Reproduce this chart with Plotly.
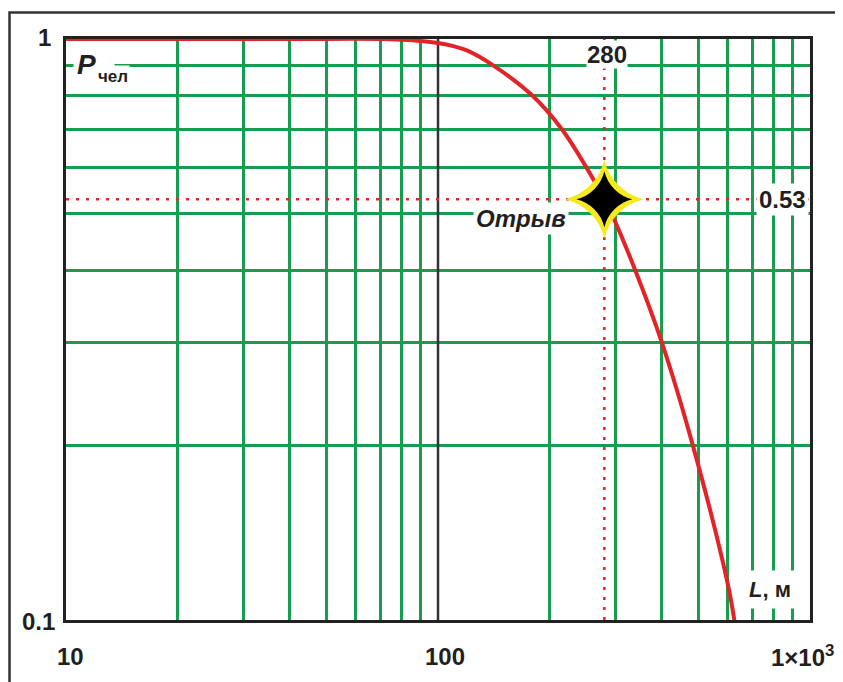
import plotly.graph_objects as go

# ---------------- data ----------------
L_VALUES = [10, 20, 40, 70, 80, 90, 100, 110, 120, 141, 179, 215, 251, 280, 293, 339, 400, 484, 600, 626]
P_VALUES = [1.0, 1.0, 1.0, 1.0, 0.997, 0.992, 0.984, 0.972, 0.955, 0.9, 0.8, 0.7, 0.6, 0.53, 0.5, 0.4, 0.30, 0.2, 0.116, 0.1]

BREAK_L = 280
BREAK_P = 0.53
BREAK_LABEL = "Отрыв"

X_GRID = [20, 30, 40, 50, 60, 70, 80, 90, 200, 300, 400, 500, 600, 700, 800, 900]
Y_GRID = [0.2, 0.3, 0.4, 0.5, 0.6, 0.7, 0.8, 0.9]
X_MAJOR = [100]

X_TICK_VALS = [10, 100, 1000]
X_TICK_TEXT = ["10", "100", "1×10<sup>3</sup>"]
Y_TICK_VALS = [1, 0.1]
Y_TICK_TEXT = ["1", "0.1"]

# ---------------- geometry helpers ----------------
# the page body has an 8px margin, so the figure starts at screen (8, 8)
OFF = 8
SW, SH = 843, 682                 # screen size
PL, PR, PT, PB = 66, 810, 39, 620  # plot area in screen pixels
W, H = SW - OFF, SH - OFF
ML, MR, MT, MB = PL - OFF, SW - PR, PT - OFF, SH - PB


def px(xs):
    return (xs - PL) / (PR - PL)


def py(ys):
    return (PB - ys) / (PB - PT)


GREEN = "rgb(22,158,78)"
RED = "rgb(226,36,40)"
INK = "#231f20"
FONT = "Liberation Sans, Arial, sans-serif"

fig = go.Figure()

# black major vertical line at 100
for v in X_MAJOR:
    fig.add_trace(go.Scatter(x=[v, v], y=[0.1, 1], mode="lines",
                             line=dict(color="#333333", width=2.5),
                             hoverinfo="skip", showlegend=False))

# dotted guide lines
fig.add_trace(go.Scatter(x=[10, 1000], y=[BREAK_P, BREAK_P], mode="lines",
                         line=dict(color=RED, width=2.5, dash="3px,7px"),
                         hoverinfo="skip", showlegend=False))
fig.add_trace(go.Scatter(x=[BREAK_L, BREAK_L], y=[0.1, 1], mode="lines",
                         line=dict(color=RED, width=2.5, dash="3px,7px"),
                         hoverinfo="skip", showlegend=False))

# main curve
fig.add_trace(go.Scatter(x=L_VALUES, y=P_VALUES, mode="lines",
                         line=dict(color=RED, width=4, shape="spline", smoothing=1.0),
                         showlegend=False))

# star marker
fig.add_trace(go.Scatter(x=[BREAK_L], y=[BREAK_P], mode="markers",
                         marker=dict(symbol="star-diamond", size=56, color="#f6ea1c",
                                     line=dict(width=0)),
                         hoverinfo="skip", showlegend=False))
fig.add_trace(go.Scatter(x=[BREAK_L], y=[BREAK_P], mode="markers",
                         marker=dict(symbol="star-diamond", size=40, color="black",
                                     line=dict(width=0)),
                         hoverinfo="skip", showlegend=False))

fig.update_layout(
    width=W, height=H,
    margin=dict(l=ML, r=MR, t=MT, b=MB, pad=0),
    paper_bgcolor="white", plot_bgcolor="white",
    font=dict(family=FONT, color=INK),
    xaxis=dict(type="log", range=[1, 3], tickvals=X_GRID, showticklabels=False,
               ticks="", showgrid=True, gridcolor=GREEN, gridwidth=2.5,
               showline=True, linecolor="#222", linewidth=2.5, mirror=True,
               zeroline=False, layer="below traces"),
    yaxis=dict(type="log", range=[-1, 0], tickvals=Y_GRID, showticklabels=False,
               ticks="", showgrid=True, gridcolor=GREEN, gridwidth=2.5,
               showline=True, linecolor="#222", linewidth=2.5, mirror=True,
               zeroline=False, layer="below traces"),
)

# outer frame (left and top)
fig.add_shape(type="path", xref="paper", yref="paper",
              path=f"M {px(9.5)} {py(SH + 5)} L {px(9.5)} {py(12.5)} L {px(SW + 5)} {py(12.5)}",
              line=dict(color="#333", width=2.5))

ann = []
TICK_FS = 24
# x tick labels (screen x of label anchor)
x_pos = {10: (70, "center"), 100: (445, "center"), 1000: (836, "right")}
for v, t in zip(X_TICK_VALS, X_TICK_TEXT):
    xs, anc = x_pos[v]
    ann.append(dict(x=px(xs), xref="paper", y=py(656), yref="paper", text=f"<b>{t}</b>",
                    showarrow=False, xanchor=anc, yanchor="middle",
                    font=dict(size=TICK_FS, color=INK)))
# y tick labels
y_pos = {1: (53, 37), 0.1: (57, 621)}
for v, t in zip(Y_TICK_VALS, Y_TICK_TEXT):
    xr, yc = y_pos[v]
    ann.append(dict(x=px(xr), xref="paper", y=py(yc), yref="paper", text=f"<b>{t}</b>",
                    showarrow=False, xanchor="right", yanchor="middle",
                    font=dict(size=TICK_FS, color=INK)))

# value labels with white background
ann.append(dict(x=px(607), xref="paper", y=py(54), yref="paper", text=f"<b>{BREAK_L}</b>",
                showarrow=False, xanchor="center", yanchor="middle", bgcolor="white",
                borderpad=0, font=dict(size=TICK_FS, color=INK)))
ann.append(dict(x=px(809), xref="paper", y=py(199), yref="paper", text=f"<b>{BREAK_P}</b>",
                showarrow=False, xanchor="right", yanchor="middle", bgcolor="white",
                borderpad=2, font=dict(size=TICK_FS, color=INK)))
ann.append(dict(x=px(521), xref="paper", y=py(219), yref="paper",
                text=f"<b><i>{BREAK_LABEL}</i></b>",
                showarrow=False, xanchor="center", yanchor="middle", bgcolor="white",
                borderpad=2, font=dict(size=24, color=INK)))

# axis names
ann.append(dict(x=px(73), xref="paper", y=py(65), yref="paper",
                text="<b><i>P</i></b>  ", showarrow=False, xanchor="left", yanchor="middle",
                bgcolor="white", borderpad=3, font=dict(size=28, color=INK)))
ann.append(dict(x=px(96), xref="paper", y=py(76), yref="paper",
                text="<b>чел</b>", showarrow=False, xanchor="left", yanchor="middle",
                bgcolor="white", borderpad=1, font=dict(size=17, color=INK)))
ann.append(dict(x=px(742), xref="paper", y=py(589), yref="paper",
                text="<b><i>L</i>, м</b>", showarrow=False, xanchor="left", yanchor="middle",
                bgcolor="white", borderpad=6, font=dict(size=22, color=INK)))

fig.update_layout(annotations=ann)

fig.write_html("out.html")
